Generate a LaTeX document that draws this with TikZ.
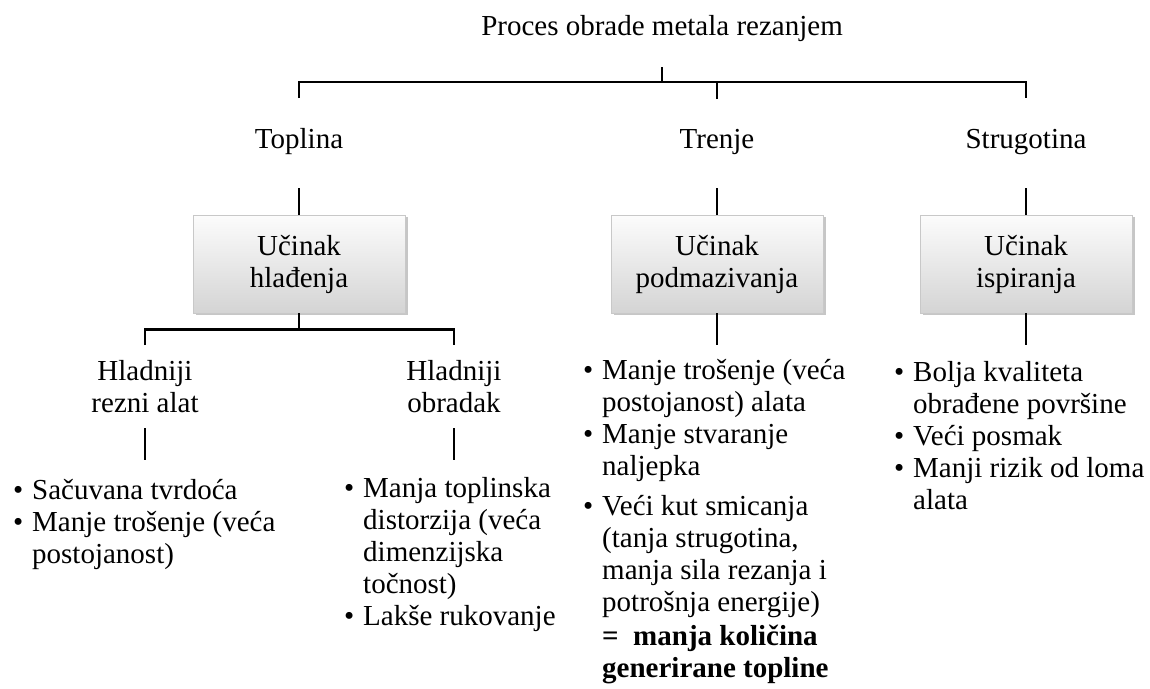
\documentclass[tikz,border=0pt]{standalone}
\usepackage{fontspec}
\setmainfont{Liberation Serif}
\usetikzlibrary{shadows}
\definecolor{boxtop}{RGB}{252, 252, 252}
\definecolor{boxbottom}{RGB}{212, 212, 212}
\definecolor{boxedge}{RGB}{200, 200, 200}
\newcommand{\bul}{\makebox[19pt][l]{\textbullet}}
\newcommand{\ind}{\hspace*{19pt}}

\begin{document}
\begin{tikzpicture}[x=1pt, y=-1pt,
		every node/.style={font=\fontsize{29}{32}\selectfont, inner sep=0pt},
		lbl/.style={anchor=base, align=center},
		lst/.style={anchor=base west, align=left},
		effbox/.style={minimum width=212pt, minimum height=98pt, align=center,
			top color=boxtop, bottom color=boxbottom, draw=boxedge, line width=0.8pt,
			drop shadow={shadow xshift=3pt, shadow yshift=-2pt, opacity=0.45}},
		conn/.style={line width=2.2pt}]
			\useasboundingbox (0, 0) rectangle (1150, 688);
			% top level (base = last line of a node)
			\node[lbl] (title) at (662, 35) {Proces obrade metala rezanjem};
			\node[lbl] (topl) at (299, 148) {Toplina};
			\node[lbl] (tren) at (717, 148) {Trenje};
			\node[lbl] (strug) at (1026, 148) {Strugotina};
			% effects
			\node[effbox] (hlad) at (299, 264) {Učinak\\hlađenja};
			\node[effbox] (podm) at (717, 264) {Učinak\\podmazivanja};
			\node[effbox] (ispir) at (1026, 264) {Učinak\\ispiranja};
			\node[lbl] (hlrez) at (145, 412) {Hladniji\\rezni alat};
			\node[lbl] (hlobr) at (454, 412) {Hladniji\\obradak};
			% lists
			\node[lst] (lrez) at (13, 563) {\bul Sačuvana tvrdoća\\\bul Manje trošenje (veća\\\ind postojanost)};
			\node[lst] (lobr) at (344, 625) {\bul Manja toplinska\\\ind distorzija (veća\\\ind dimenzijska\\\ind točnost)\\\bul Lakše rukovanje};
			\node[lst] (lpodm) at (583, 677) {\bul Manje trošenje (veća\\\ind postojanost) alata\\\bul Manje stvaranje\\\ind naljepka\\[8pt]\bul Veći kut smicanja\\\ind (tanja strugotina,\\\ind manja sila rezanja i\\\ind potrošnja energije)\\[2pt]\ind\textbf{=\ \ manja količina}\\\ind\textbf{generirane topline}};
			\node[lst] (lispir) at (894, 509) {\bul Bolja kvaliteta\\\ind obrađene površine\\\bul Veći posmak\\\bul Manji rizik od loma\\\ind alata};
			% connectors
			\draw[conn] ([yshift=-32pt]title.base) -- ++(0, 15) coordinate (top);
			\draw[conn] ([yshift=50pt]topl.base) |- (top) -| ([yshift=50pt]strug.base);
			\draw[conn] ([yshift=49pt]tren.base) -- ++(0, -17);
			\draw[conn] ([yshift=-40pt]topl.base) -- (hlad.north);
			\draw[conn] ([yshift=-40pt]tren.base) -- (podm.north);
			\draw[conn] ([yshift=-40pt]strug.base) -- (ispir.north);
			\draw[conn] (hlad.south) -- ++(0, 16) coordinate (split);
			\draw[conn] ([yshift=67pt]hlrez.base) |- (split) -| ([yshift=67pt]hlobr.base);
			\draw[conn] ([yshift=-16pt]hlrez.base) -- ++(0, 32);
			\draw[conn] ([yshift=-16pt]hlobr.base) -- ++(0, 32);
			\draw[conn] (podm.south) -- ++(0, 32);
			\draw[conn] (ispir.south) -- ++(0, 32);
		\end{tikzpicture}
\end{document}
